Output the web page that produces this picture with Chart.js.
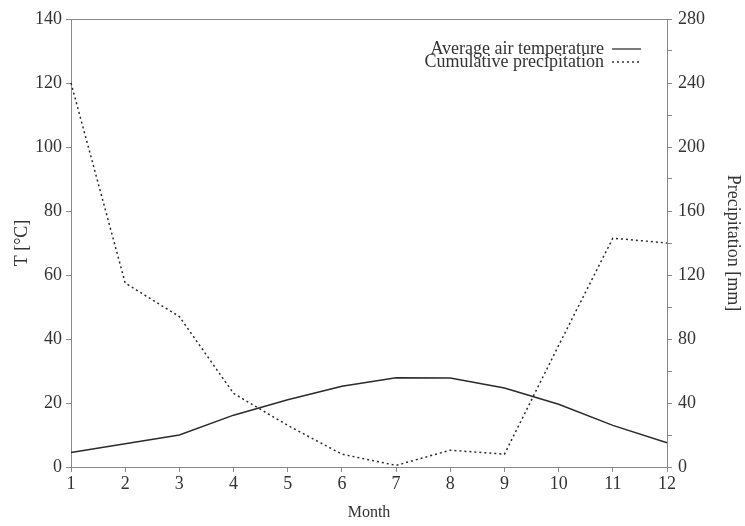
<!DOCTYPE html>
<html>
<head>
<meta charset="utf-8">
<script src="https://cdn.jsdelivr.net/npm/chart.js@4/dist/chart.umd.min.js"></script>
<style>
  html, body { margin: 0; padding: 0; background: #fff; }
  #wrap { width: 745px; height: 526px; }
</style>
</head>
<body>
<div id="wrap"><canvas id="canvas-clima"></canvas></div>
<script>
var months = ['1', '2', '3', '4', '5', '6', '7', '8', '9', '10', '11', '12'];
var temperatura = [4.5, 7.3, 10.0, 16.2, 21.0, 25.2, 27.9, 27.8, 24.7, 19.6, 13.0, 7.6];
var precipitacion = [240, 115, 94, 46, 26, 8, 1, 10.5, 8, 76, 143, 140];

var serif = "'Liberation Serif', 'Times New Roman', serif";
var axisGray = '#8a8a8a';
var textGray = '#333';

// box around the plot + legend with the line sample on the right
var boxLegend = {
    id: 'boxLegend',
    afterDatasetsDraw: function (chart) {
        var c = chart.ctx, a = chart.chartArea;
        c.save();
        c.strokeStyle = axisGray;
        c.lineWidth = 1;
        c.beginPath();
        c.moveTo(a.left, a.top + 0.5);
        c.lineTo(a.right, a.top + 0.5);
        c.stroke();

        c.font = '18px ' + serif;
        c.fillStyle = textGray;
        c.textAlign = 'right';
        c.textBaseline = 'middle';
        chart.data.datasets.forEach(function (ds, i) {
            var y = a.top + 30 + i * 13;
            c.fillText(ds.label, a.right - 63, y);
            c.strokeStyle = '#333';
            c.lineWidth = 1.3;
            c.setLineDash(ds.borderDash || []);
            c.beginPath();
            c.moveTo(a.right - 55, y);
            c.lineTo(a.right - 26, y);
            c.stroke();
        });
        c.restore();
    }
};

const ctx = document.getElementById('canvas-clima');
new Chart(ctx, {
    type: 'line',
    data: {
        labels: months,
        datasets: [{
            label: 'Average air temperature',
            data: temperatura,
            yAxisID: 'yT',
            borderColor: '#2b2b2b',
            borderWidth: 1.5,
            pointRadius: 0,
            tension: 0
        }, {
            label: 'Cumulative precipitation',
            data: precipitacion,
            yAxisID: 'yP',
            borderColor: '#2b2b2b',
            borderWidth: 1.5,
            borderDash: [2, 3],
            pointRadius: 0,
            tension: 0
        }]
    },
    options: {
        responsive: true,
        maintainAspectRatio: false,
        animation: false,
        layout: { padding: { top: 19, left: 0, right: 0, bottom: 0 } },
        plugins: {
            legend: { display: false },
            tooltip: { enabled: false }
        },
        scales: {
            x: {
                offset: false,
                grid: { drawOnChartArea: false, color: axisGray, tickLength: 5 },
                border: { color: axisGray },
                ticks: { color: textGray, font: { family: serif, size: 18 }, padding: 1, maxRotation: 0 },
                title: { display: true, text: 'Month', color: textGray, font: { family: serif, size: 16 }, padding: { top: 4, bottom: 4 } },
                afterFit: function (s) { s.height = 59; }
            },
            yT: {
                position: 'left',
                min: 0,
                max: 140,
                ticks: { stepSize: 20, color: textGray, font: { family: serif, size: 18 }, padding: 4 },
                grid: { drawOnChartArea: false, color: axisGray, tickLength: 5 },
                border: { color: axisGray },
                title: { display: true, text: 'T [°C]', color: textGray, font: { family: serif, size: 18 }, padding: { top: 11, bottom: 0 } },
                afterFit: function (s) { s.width = 71; }
            },
            yP: {
                position: 'right',
                min: 0,
                max: 280,
                ticks: {
                    stepSize: 20,
                    color: textGray,
                    font: { family: serif, size: 18 },
                    padding: 6,
                    callback: function (v) { return v % 40 === 0 ? v : ''; }
                },
                grid: { drawOnChartArea: false, color: axisGray, tickLength: 5 },
                border: { color: axisGray },
                title: { display: true, text: 'Precipitation [mm]', color: textGray, font: { family: serif, size: 18 }, padding: { top: 1, bottom: 0 } },
                afterFit: function (s) { s.width = 78; }
            }
        }
    },
    plugins: [boxLegend]
});
</script>
</body>
</html>
